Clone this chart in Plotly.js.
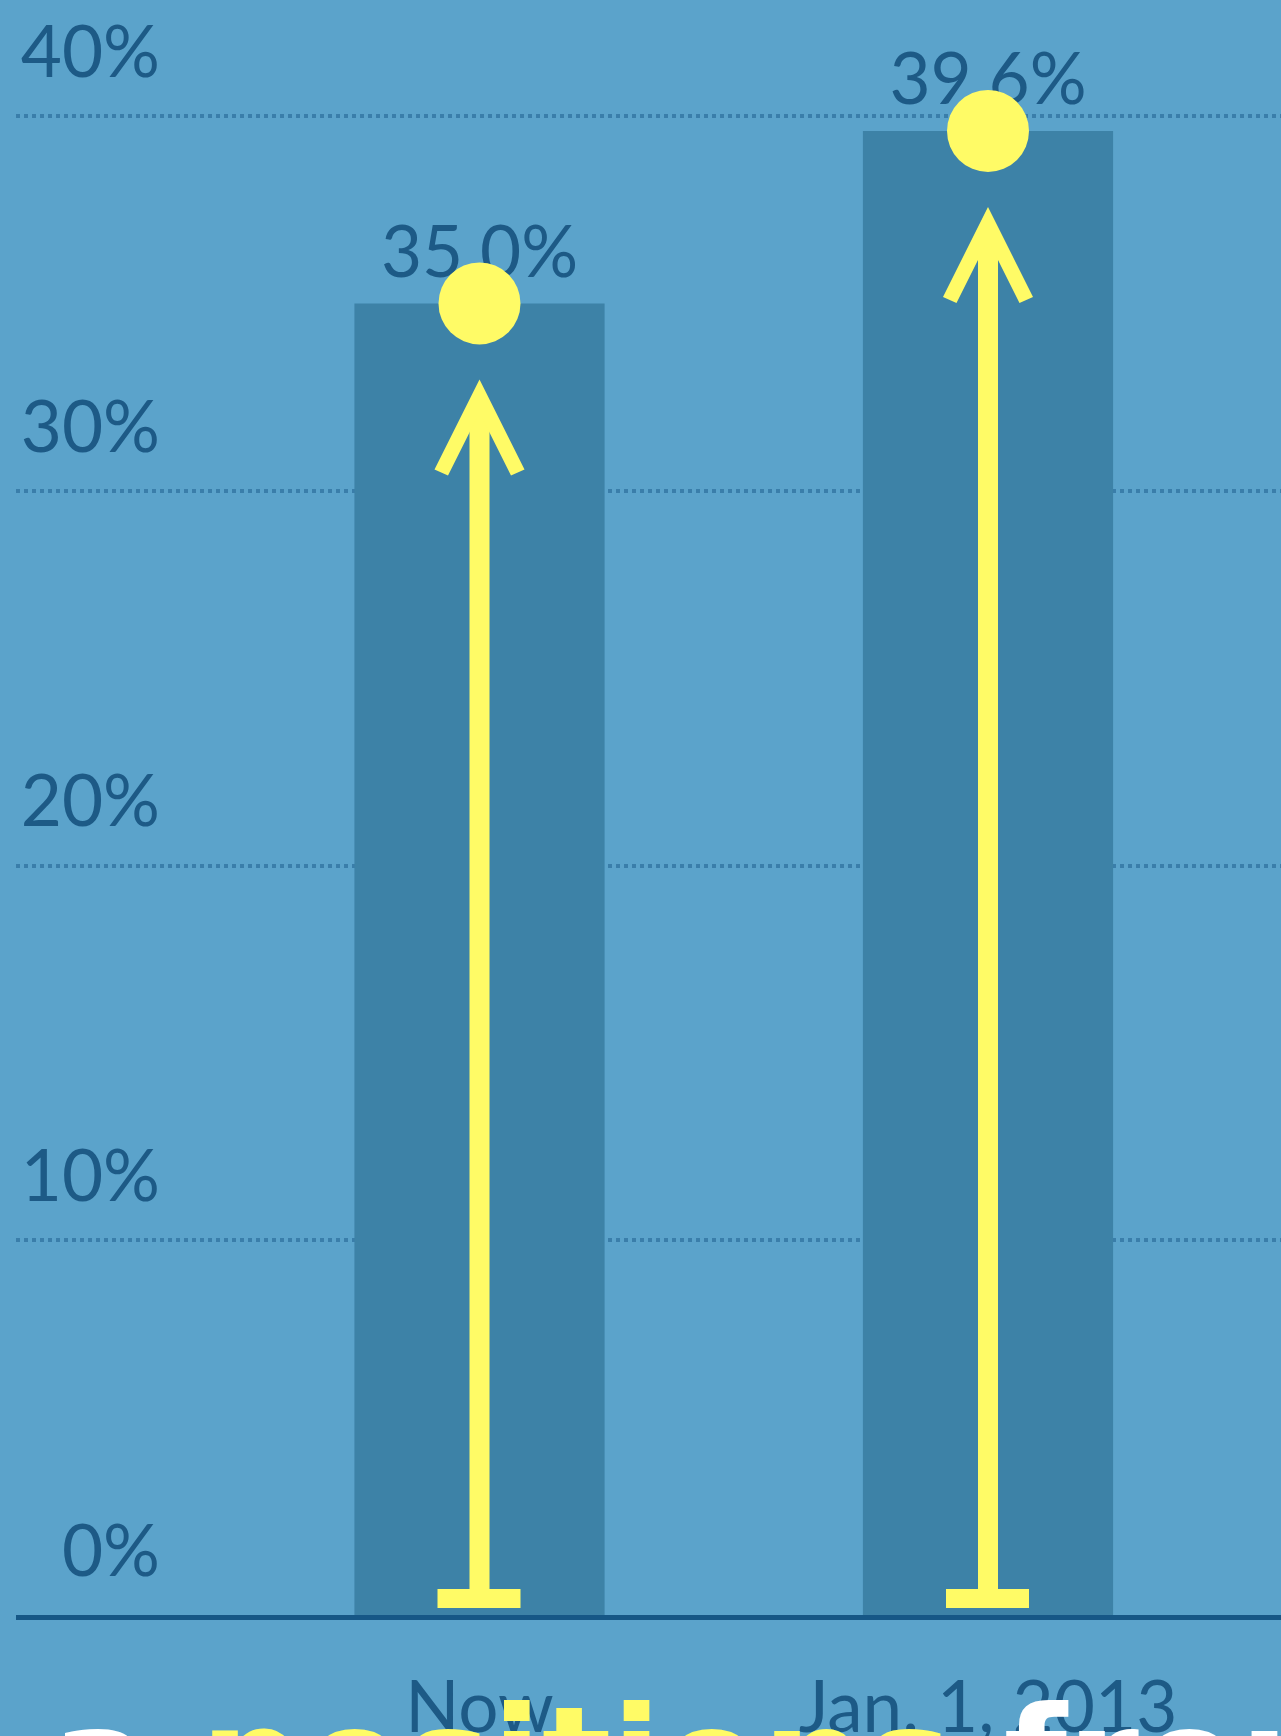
<!DOCTYPE html>
<html>
<head>
<meta charset="utf-8">
<script src="https://cdn.plot.ly/plotly-3.0.1.min.js"></script>
<style>
  html, body { margin: 0; padding: 0; background: #5ba3cb; overflow: hidden; }
  #chart { width: 1281px; height: 1736px; }
</style>
</head>
<body>
<div id="chart"></div>
<script>
// ---- data ----
const categories = ['Now', 'Jan. 1, 2013'];
const shares = [35.0, 39.6];
const yTickValues = [0, 10, 20, 30, 40];
const yTickLabels = ['0%', '10%', '20%', '30%', '40%'];
const captionLead = 'e a';
const captionHighlight = 'positions';
const captionTail = 'from';

// ---- styles ----
const W = 1281, H = 1736;
const BG = '#5ba3cb';
const BAR = '#3d82a7';
const INK = '#1d5a86';
const YELLOW = '#fffb66';
const baseFont = { family: 'Lato, "Open Sans", sans-serif', size: 71, color: INK };
const captionFont = { family: '"DejaVu Sans", sans-serif', size: 146, color: '#ffffff', weight: 'bold' };

const idx = categories.map((c, i) => i);
const valueLabels = shares.map(v => v.toFixed(1) + '%');

const traces = [
  {
    type: 'bar',
    x: categories,
    y: shares,
    width: 0.492,
    marker: { color: BAR, line: { width: 0 } },
    hoverinfo: 'skip'
  },
  {
    // value labels (drawn beneath the yellow dots)
    type: 'scatter',
    mode: 'markers+text',
    x: categories,
    y: shares,
    text: valueLabels,
    textposition: 'top center',
    textfont: baseFont,
    cliponaxis: false,
    marker: { size: 13, color: 'rgba(0,0,0,0)', line: { width: 0 } },
    hoverinfo: 'skip'
  },
  {
    type: 'scatter',
    mode: 'markers',
    x: categories,
    y: shares,
    cliponaxis: false,
    marker: { color: YELLOW, size: 82, line: { width: 0 } },
    hoverinfo: 'skip'
  }
];

const annotations = [];
idx.forEach(i => {
  // yellow arrow from baseline up to the point
  annotations.push({
    xref: 'x', yref: 'y', x: i, y: shares[i],
    axref: 'x', ayref: 'y', ax: i, ay: 0,
    text: '', showarrow: true,
    arrowhead: 5, arrowsize: 0.75, arrowwidth: 20, arrowcolor: YELLOW,
    standoff: 76, startstandoff: 10
  });
});

// caption (cut off at the bottom of the frame)
annotations.push({
  xref: 'paper', yref: 'paper',
  x: 152 / W, y: 1 - 1673 / H,
  xanchor: 'right', yanchor: 'top',
  showarrow: false,
  text: captionLead,
  font: captionFont
});
annotations.push({
  xref: 'paper', yref: 'paper',
  x: 198 / W, y: 1 - 1673 / H,
  xanchor: 'left', yanchor: 'top',
  showarrow: false,
  text: '<span style="color:' + YELLOW + '">' + captionHighlight + '</span> ' + captionTail,
  font: captionFont
});

// T-caps at the foot of each arrow
const shapes = idx.map(i => ({
  type: 'rect', xref: 'x', yref: 'y',
  xsizemode: 'pixel', ysizemode: 'pixel',
  xanchor: i, yanchor: 0,
  x0: -42, x1: 41, y0: 7, y1: 26,
  fillcolor: YELLOW, line: { width: 0 }, layer: 'above'
}));

const layout = {
  width: W, height: H,
  margin: { l: 0, r: 0, t: 0, b: 0, pad: 0 },
  paper_bgcolor: BG, plot_bgcolor: BG,
  showlegend: false,
  xaxis: {
    type: 'category', categoryorder: 'array', categoryarray: categories,
    domain: [16 / W, 1], range: [-0.9115, 1.5762],
    showgrid: false, zeroline: false,
    showline: true, linecolor: '#165786', linewidth: 5,
    ticks: '', tickfont: baseFont, ticklabelstandoff: 27,
    automargin: false, fixedrange: true
  },
  yaxis: {
    domain: [(H - 1615) / H, 1], range: [0, 1615 / 37.475],
    anchor: 'free', position: 160 / W,
    tickvals: yTickValues, ticktext: yTickLabels,
    showgrid: true, gridcolor: '#3a7eaa', gridwidth: 4, griddash: 'dot',
    zeroline: false, showline: false, ticks: '',
    tickfont: baseFont, ticklabelshift: -64, ticklabelstandoff: 0,
    automargin: false, fixedrange: true
  },
  annotations: annotations,
  shapes: shapes
};

Plotly.newPlot('chart', traces, layout, { displayModeBar: false, staticPlot: true });
</script>
</body>
</html>
